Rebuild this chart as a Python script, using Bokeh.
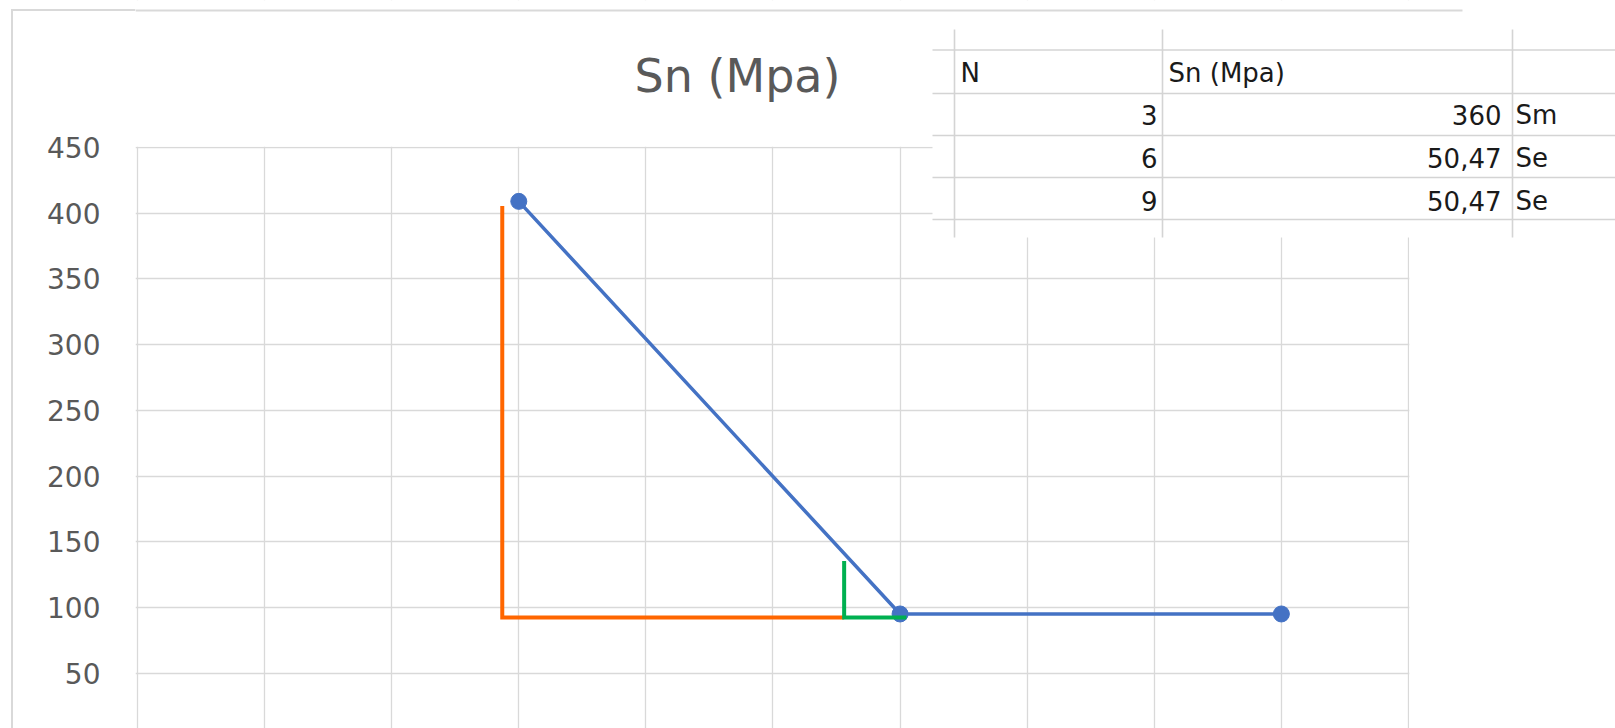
from bokeh.plotting import figure
from bokeh.models import Range1d, FixedTicker, Label, BoxAnnotation
from bokeh.embed import file_html
from bokeh.resources import INLINE

# ---------------- data ----------------
log_n = [3, 6, 9]                 # x positions (N)
sn_plot = [409, 95, 95]           # plotted Sn values
orange_x = [2.87, 2.87, 5.56]     # hand-drawn orange bracket
orange_y = [405.5, 92.4, 92.4]
green_x = [5.56, 5.56, 6.05]      # hand-drawn green bracket
green_y = [135.4, 92.4, 92.4]
x_ticks = [0, 1, 2, 3, 4, 5, 6, 7, 8, 9, 10]
y_ticks = [0, 50, 100, 150, 200, 250, 300, 350, 400, 450]

title_text = "Sn (Mpa)"
table_header = ["N", "Sn (Mpa)"]
table_n = ["3", "6", "9"]
table_sn = ["360", "50,47", "50,47"]
table_tag = ["Sm", "Se", "Se"]

# ---------------- figure ----------------
W, H = 1615, 728
p = figure(width=W, height=H, output_backend="svg", toolbar_location=None,
           x_range=Range1d(-0.0157, 11.629), y_range=Range1d(7.84, 561.87),
           min_border_left=135, min_border_right=0,
           min_border_top=0, min_border_bottom=0)
p.title.visible = False
p.outline_line_color = None
p.background_fill_color = "white"
p.border_fill_alpha = 0
p.styles = {
    "background-image": "linear-gradient(#d9d9d9, #d9d9d9), linear-gradient(#d9d9d9, #d9d9d9)",
    "background-size": "2px 720px, 130px 2px",
    "background-position": "11px 9px, 11px 9px",
    "background-repeat": "no-repeat",
}
p.xaxis.visible = False

ya = p.yaxis[0]
ya.ticker = FixedTicker(ticks=y_ticks)
ya.axis_line_color = None
ya.major_tick_line_color = None
ya.minor_tick_line_color = None
ya.major_tick_in = 0
ya.major_tick_out = 0
ya.major_label_standoff = 35
ya.major_label_text_font = "DejaVu Sans"
ya.major_label_text_font_size = "28px"
ya.major_label_text_color = "#595959"

p.xgrid.ticker = FixedTicker(ticks=x_ticks)
p.ygrid.ticker = FixedTicker(ticks=y_ticks)
for g in (p.xgrid, p.ygrid):
    g.grid_line_color = "#d9d9d9"
    g.grid_line_width = 1.3

CU = dict(left_units="canvas", right_units="canvas", top_units="canvas", bottom_units="canvas")

def box(l, r, t, b, color, level="annotation"):
    p.add_layout(BoxAnnotation(left=l, right=r, top=t, bottom=b, fill_color=color,
                               fill_alpha=1, line_color=None, level=level, **CU))

# keep the gridlines inside the plot area (mask grid overflow, under the data)
box(133, W, 0, 146.2, "white", level="underlay")
box(1408.8, W, 0, H, "white", level="underlay")

# series
p.line(log_n, sn_plot, line_color="#4472C4", line_width=3.5)
p.scatter(log_n, sn_plot, size=16, fill_color="#4472C4", line_color="#4472C4")
p.line(orange_x, orange_y, line_color="#FF6600", line_width=4, line_join="miter")
p.line(green_x, green_y, line_color="#00B050", line_width=4, line_join="miter")

# chart area top border
box(135, 1462, 9, 11, "#d9d9d9")

# title
p.add_layout(Label(x=737, y=75, x_units="canvas", y_units="canvas", text=title_text,
                   text_align="center", text_baseline="middle",
                   text_font="DejaVu Sans", text_font_size="46px", text_color="#595959"))

# spreadsheet table overlay
box(932, W, 29, 237, "white")
for yy in [49.5, 93, 135, 177, 219]:
    box(932, W, yy - 0.8, yy + 0.8, "#d4d4d4")
for xx in [954, 1162, 1512]:
    box(xx - 0.8, xx + 0.8, 29, 237, "#d4d4d4")

tf = dict(x_units="canvas", y_units="canvas", text_baseline="middle",
          text_font="DejaVu Sans", text_font_size="26px", text_color="#1a1a1a")
p.add_layout(Label(x=960, y=72, text=table_header[0], text_align="left", **tf))
p.add_layout(Label(x=1168, y=72, text=table_header[1], text_align="left", **tf))
row_y = [114, 157, 200]
for i in range(3):
    p.add_layout(Label(x=1157, y=row_y[i], text=table_n[i], text_align="right", **tf))
    p.add_layout(Label(x=1501, y=row_y[i], text=table_sn[i], text_align="right", **tf))
    p.add_layout(Label(x=1515, y=row_y[i], text=table_tag[i], text_align="left", **tf))

open("out.html", "w").write(file_html(p, INLINE))
